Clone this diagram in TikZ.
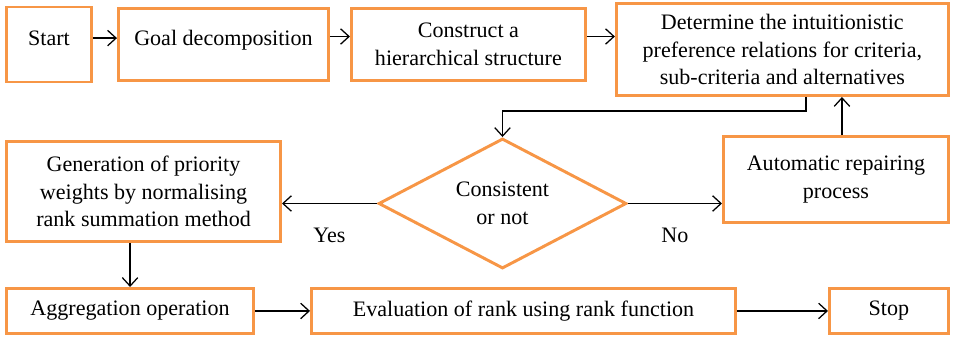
\documentclass[tikz,border=0pt]{standalone}
\usepackage{fontspec}
\setmainfont{Liberation Serif}
\usetikzlibrary{positioning, shapes.geometric, arrows.meta}
\definecolor{boxorange}{RGB}{247,150,70}
\begin{document}
\begin{tikzpicture}[node distance={1cm}, line width=0.9pt, >={Straight Barb[length=6pt,width=11pt]},
        main/.style = {draw=boxorange, line width=2.1pt, align=center, inner sep=2pt, font=\fontsize{15.7}{19.6}\selectfont},
        test/.style = {main, diamond, aspect=1.9, inner sep=1pt},
        lbl/.style = {font=\fontsize{15.7}{19.6}\selectfont}]
        \useasboundingbox (0,0) rectangle (23.875,-8.425);
        \node[main, minimum width=2.125cm, minimum height=1.875cm, text depth=0.32cm] (1) at (1.225,-1.1125) {Start};
        \node[main, minimum width=5.25cm, minimum height=1.8cm, text depth=0.35cm] (2) [right=0.6cm of 1] {Goal decomposition};
        \node[main, minimum width=5.85cm, minimum height=1.8cm] (3) [right=0.5cm of 2] {Construct a\\hierarchical structure};
        \node[main, minimum width=8.3cm, minimum height=2.3cm] (4) [right=0.7cm of 3, yshift=-0.125cm] {Determine the intuitionistic\\preference relations for criteria,\\sub-criteria and alternatives};
        \node[test, minimum width=6.2cm, minimum height=3.25cm] (5) at (12.5625,-5.0875) {Consistent\\or not};
        \node[main, minimum width=6.85cm, minimum height=2.5cm] (6) [left=2.375cm of 5, yshift=0.3cm] {Generation of priority\\weights by normalising\\rank summation method};
        \node[main, minimum width=5.625cm, minimum height=2.15cm] (7) [right=2.35cm of 5, yshift=0.6cm] {Automatic repairing\\process};
        \node[main, minimum width=6.175cm, minimum height=1.125cm] (8) [below=1.1cm of 6.south west, anchor=north west] {Aggregation operation};
        \node[main, minimum width=10.6cm, minimum height=1.125cm] (9) [right=1.375cm of 8] {Evaluation of rank using rank function};
        \node[main, minimum width=2.975cm, minimum height=1.125cm] (10) [right=2.275cm of 9] {Stop};

        \draw[->] ([yshift=0.16cm]1.east) -- ([yshift=0.16cm]1.east -| 2.west);
        \draw[->] ([yshift=0.2cm]2.east) -- ([yshift=0.2cm]2.east -| 3.west);
        \draw[->] ([yshift=0.2cm]3.east) -- ([yshift=0.2cm]3.east -| 4.west);
        \draw[->] ([xshift=0.5875cm]4.south) |- ([yshift=0.65cm]5.north) -- (5.north);
        \draw[->] (5.west) -- (5.west -| 6.east) node[lbl, midway, yshift=-0.8cm] {Yes};
        \draw[->] (5.east) -- (5.east -| 7.west) node[lbl, midway, yshift=-0.8cm] {No};
        \draw[->] ([xshift=0.15cm]7.north) -- ([xshift=0.15cm]7.north |- 4.south);
        \draw[->] (6.south -| 8.north) -- (8.north);
        \draw[->] (8.east) -- (9.west);
        \draw[->] (9.east) -- (10.west);
    \end{tikzpicture}
\end{document}
